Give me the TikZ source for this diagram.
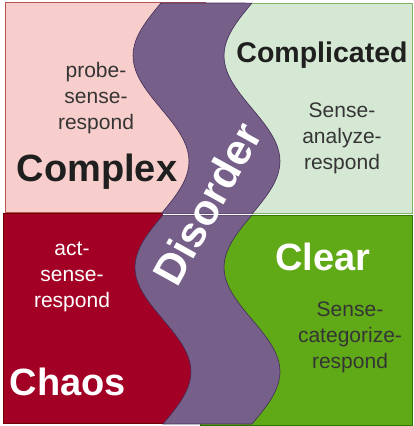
\documentclass[tikz,border=0pt]{standalone}
\usepackage{fontspec}
\setmainfont{Liberation Sans}
\definecolor{pinkfill}{HTML}{F8CECC}
\definecolor{pinkline}{HTML}{B85450}
\definecolor{mintfill}{HTML}{D5E8D4}
\definecolor{mintline}{HTML}{82B366}
\definecolor{redfill}{HTML}{A20025}
\definecolor{redline}{HTML}{6F0000}
\definecolor{greenfill}{HTML}{60A917}
\definecolor{greenline}{HTML}{2D7600}
\definecolor{violetfill}{HTML}{76608A}
\definecolor{violetline}{HTML}{432D57}
\definecolor{darktext}{HTML}{1F1F1F}
\begin{document}
\begin{tikzpicture}[x=1pt, y=-1pt,
    small/.style={align=center, font=\fontsize{21}{26}\selectfont, text=darktext!90},
    big/.style={font=\fontsize{38}{40}\selectfont\bfseries, text=darktext}]
  \useasboundingbox (0,0) rectangle (413,426);
  % the four domains
  \draw[pinkline, fill=pinkfill] (5,2) rectangle (205,212);
  \draw[mintline, fill=mintfill] (200,3) rectangle (412,213);
  \draw[redline, fill=redfill] (3,213) rectangle (205,423);
  \draw[greenline, fill=greenfill] (200,215) rectangle (412,425);
  % disorder band, two halves
  \draw[violetline, fill=violetfill, line width=0.6]
    plot[domain=0:1, samples=41] ({161-28*sin(360*\x)}, {3+211*\x})
    -- plot[domain=1:0, samples=41] ({252-28*sin(360*\x)}, {3+211*\x}) -- cycle;
  \draw[violetline, fill=violetfill, line width=0.6]
    plot[domain=0:1, samples=41] ({163-28*sin(360*\x)}, {215+209*\x})
    -- plot[domain=1:0, samples=41] ({252-28*sin(360*\x)}, {215+209*\x}) -- cycle;
  \draw[white, line width=1.2] (163,214.5) -- (252,214.5);
  % labels
  \node[small] (probe) at (96,98) {probe-\\sense-\\respond};
  \node[big] (cplx) at (97,172) {Complex};
  \node[big, font=\fontsize{28.5}{30}\selectfont\bfseries] (cpld) at (322,55) {Complicated};
  \node[small] (analyze) at (342,138) {Sense-\\analyze-\\respond};
  \node[small, text=white] (act) at (72,277) {act-\\sense-\\respond};
  \node[big, text=white] (chaos) at (68,382) {Chaos};
  \node[big, text=white] (clear) at (323,257) {Clear};
  \node[small] (categ) at (350,337) {Sense-\\categorize-\\respond};
  \node[big, text=white, font=\fontsize{43}{45}\selectfont\bfseries, rotate=61]
    (dis) at (207,204) {Disorder};
\end{tikzpicture}
\end{document}
